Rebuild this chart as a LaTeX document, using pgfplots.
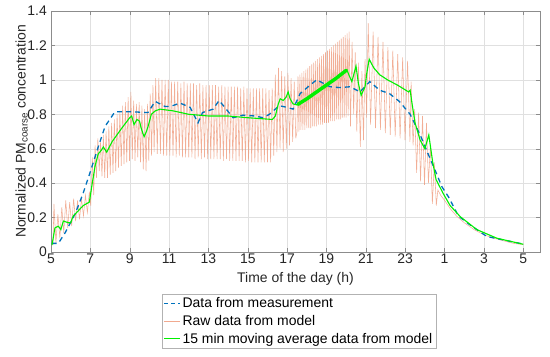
\documentclass[border=0pt]{standalone}
\usepackage{pgfplots}
\pgfplotsset{compat=1.18}
\usepackage{fontspec}
\setmainfont{Liberation Sans}
\definecolor{mblue}{rgb}{0,0.447,0.741}
\definecolor{rawc}{RGB}{236,140,105}
\definecolor{mgreen}{RGB}{0,240,0}
\begin{document}
\begin{tikzpicture}
\begin{axis}[
  scale only axis, width=489bp, height=241bp,
  xmin=5, xmax=29.85, ymin=0, ymax=1.4,
  xtick={5,7,9,11,13,15,17,19,21,23,25,27,29},
  xticklabels={5,7,9,11,13,15,17,19,21,23,1,3,5},
  ytick={0,0.2,0.4,0.6,0.8,1,1.2,1.4},
  yticklabels={0,0.2,0.4,0.6,0.8,1,1.2,1.4},
  tick pos=both, tick align=inside, major tick length=4bp,
  axis line style={black!45}, tick style={black!45},
  grid=major, major grid style={black!12, line width=0.4pt},
  /pgf/number format/assume math mode=true,
  font=\fontsize{14}{16}\selectfont,
  ticklabel style={text=black!85},
  xticklabel style={inner sep=1bp, yshift=-1bp},
  yticklabel style={inner sep=1bp, xshift=-3bp},
  xlabel={Time of the day (h)},
  xlabel style={at={(axis description cs:0.5,-0.083)}, anchor=north, inner sep=0pt, text=black!85},
  ylabel={Normalized PM\textsubscript{coarse} concentration},
  ylabel style={at={(axis description cs:-0.047,0.5)}, anchor=south, inner sep=0pt, text=black!85},
  legend style={at={(axis description cs:0.227,-0.174)}, anchor=north west,
    draw=black!30, fill=white, font=\fontsize{14}{16}\selectfont,
    inner sep=1.5bp, row sep=2.2bp, cells={anchor=west}},
  legend cell align=left,
  legend image code/.code={\draw[#1] (0cm,0cm) -- (0.55cm,0cm);},
]
\addlegendimage{mblue, line width=1.3pt, dash pattern=on 4bp off 3bp}
\addlegendentry{Data from measurement}
\addlegendimage{rawc!75, line width=0.7pt}
\addlegendentry{Raw data from model}
\addlegendimage{mgreen, line width=1pt}
\addlegendentry{15 min moving average data from model}
\coordinate (bl) at (rel axis cs:0,0);
\coordinate (tr) at (rel axis cs:1,1);
% raw model
\addplot[forget plot, rawc, line width=0.55pt, opacity=0.7] coordinates {
(5.10,0.04)(5.15,0.28)(5.25,0.05)(5.35,0.22)(5.45,0.08)(5.55,0.26)(5.65,0.11)(5.75,0.30)(5.85,0.14)(5.95,0.29)
(6.05,0.15)(6.15,0.31)(6.25,0.18)(6.35,0.30)(6.45,0.19)(6.55,0.31)(6.65,0.21)(6.75,0.33)(6.85,0.23)(6.95,0.35)(7.02,0.27)
(7.10,0.55)(7.17,0.33)(7.24,0.62)(7.31,0.43)(7.38,0.66)(7.45,0.47)
(7.52,0.64)(7.59,0.44)(7.66,0.68)(7.73,0.43)(7.80,0.70)(7.87,0.43)(7.94,0.73)(8.01,0.45)(8.08,0.75)(8.15,0.46)
(8.22,0.77)(8.29,0.47)(8.36,0.80)(8.43,0.49)(8.50,0.82)(8.57,0.50)(8.64,0.85)(8.71,0.51)(8.78,0.87)(8.85,0.52)
(8.92,0.90)(8.99,0.53)(9.06,0.93)(9.13,0.54)
(9.20,0.88)(9.27,0.53)(9.34,0.86)(9.41,0.55)(9.48,0.87)(9.55,0.52)(9.62,0.85)(9.69,0.48)(9.76,0.83)(9.83,0.47)
(9.90,0.86)(9.97,0.53)(10.04,0.92)(10.11,0.56)(10.18,0.97)
(10.24,0.58)(10.32,1.01)(10.40,0.57)(10.48,1.01)(10.56,0.57)(10.64,1.00)(10.72,0.56)(10.80,1.00)(10.88,0.56)(10.96,1.00)
(11.04,0.56)(11.12,0.99)(11.20,0.56)(11.28,0.99)(11.36,0.55)(11.44,0.99)(11.52,0.56)(11.60,0.98)(11.68,0.55)(11.76,0.99)
(11.84,0.55)(11.92,0.98)(12.00,0.55)(12.08,0.98)(12.16,0.55)(12.24,0.98)(12.32,0.54)(12.40,0.97)(12.48,0.55)(12.56,0.98)
(12.64,0.54)(12.72,0.97)(12.80,0.55)(12.88,0.97)(12.96,0.54)(13.04,0.97)(13.12,0.54)(13.20,0.97)(13.28,0.54)(13.36,0.97)
(13.44,0.54)(13.52,0.96)(13.60,0.54)(13.68,0.97)(13.76,0.53)(13.84,0.96)(13.92,0.54)(14.00,0.96)(14.08,0.53)(14.16,0.96)
(14.24,0.53)(14.32,0.96)(14.40,0.53)(14.48,0.96)(14.56,0.53)(14.64,0.95)(14.72,0.53)(14.80,0.96)(14.88,0.52)(14.96,0.95)
(15.04,0.53)(15.12,0.95)(15.20,0.52)(15.28,0.95)(15.36,0.52)(15.44,0.95)(15.52,0.52)(15.60,0.95)(15.68,0.52)(15.76,0.95)
(15.84,0.52)(15.92,0.95)(16.00,0.52)(16.08,0.94)(16.16,0.52)(16.24,0.95)
(16.32,0.56)(16.40,1.03)(16.48,0.58)(16.56,1.07)(16.64,0.60)(16.72,1.05)(16.80,0.58)(16.88,1.02)(16.96,0.60)(17.04,1.04)
(17.12,0.62)(17.20,1.01)(17.28,0.64)(17.36,0.99)(17.44,0.66)
(17.50,0.70)(17.55,1.02)(17.60,0.70)(17.65,1.03)(17.70,0.71)(17.75,1.04)(17.80,0.71)(17.85,1.05)(17.90,0.71)(17.95,1.06)
(18.00,0.72)(18.05,1.07)(18.10,0.72)(18.15,1.08)(18.20,0.72)(18.25,1.09)(18.30,0.73)(18.35,1.10)(18.40,0.73)(18.45,1.11)
(18.50,0.73)(18.55,1.12)(18.60,0.74)(18.65,1.13)(18.70,0.74)(18.75,1.14)(18.80,0.74)(18.85,1.15)(18.90,0.75)(18.95,1.16)
(19.00,0.75)(19.05,1.17)(19.10,0.75)(19.15,1.18)(19.20,0.76)(19.25,1.19)(19.30,0.76)(19.35,1.20)(19.40,0.76)(19.45,1.21)
(19.50,0.77)(19.55,1.22)(19.60,0.77)(19.65,1.23)(19.70,0.77)(19.75,1.24)(19.80,0.78)(19.85,1.25)(19.90,0.78)(19.95,1.26)
(20.00,0.78)(20.05,1.27)(20.10,0.79)(20.15,1.28)
(20.22,0.73)(20.30,1.22)(20.38,0.80)(20.46,1.16)(20.54,0.70)(20.62,1.10)(20.72,0.61)(20.80,1.05)(20.88,0.65)(20.96,1.12)(21.04,0.78)
(21.12,1.33)(21.24,0.74)(21.37,1.28)(21.49,0.72)(21.62,1.25)(21.74,0.71)(21.87,1.22)(21.99,0.69)(22.12,1.19)(22.24,0.68)
(22.37,1.17)(22.49,0.67)(22.62,1.15)(22.74,0.66)(22.87,1.13)(22.99,0.65)(23.12,1.11)(23.24,0.64)(23.30,0.99)
(23.40,0.62)(23.48,0.83)(23.58,0.46)(23.68,0.81)(23.78,0.41)(23.88,0.79)(23.98,0.39)(24.08,0.75)(24.18,0.40)
(24.28,0.62)(24.38,0.28)(24.48,0.52)(24.58,0.27)(24.66,0.36)
(24.80,0.33)(25.00,0.30)(25.30,0.25)(25.60,0.21)(26.00,0.17)(26.50,0.13)(27.00,0.10)(27.50,0.08)(28.00,0.065)(28.50,0.05)(29.00,0.043)
};
% measurement
\addplot[forget plot, mblue, line width=1.3pt, dash pattern=on 5bp off 4bp] coordinates {
(5.03,0.05)(5.37,0.05)(5.71,0.11)(6.22,0.22)(6.63,0.34)(6.98,0.46)(7.40,0.61)(7.75,0.73)(8.25,0.815)(9.00,0.815)
(9.93,0.81)(10.29,0.875)(10.80,0.845)(11.05,0.845)(11.56,0.865)(12.07,0.84)(12.47,0.75)(12.70,0.81)(13.24,0.83)(13.54,0.88)
(13.80,0.845)(14.25,0.78)(14.76,0.795)(15.37,0.79)(15.78,0.78)(16.10,0.80)(16.60,0.85)(17.00,0.84)(17.30,0.83)(17.66,0.92)
(18.17,0.97)(18.50,1.00)(19.18,0.96)(19.69,0.955)(20.20,0.96)(20.70,0.93)(21.20,0.99)(21.70,0.94)(22.20,0.92)(22.70,0.875)
(23.25,0.80)(23.76,0.68)(24.20,0.56)(24.50,0.48)(24.86,0.38)(25.20,0.32)(25.70,0.21)(26.20,0.165)(27.15,0.09)(28.00,0.07)
(28.83,0.05)(29.00,0.045)
};
% moving average
\addplot[forget plot, mgreen, line width=1.1pt] coordinates {
(5.05,0.04)(5.20,0.14)(5.37,0.15)(5.50,0.13)(5.63,0.18)(5.88,0.17)(6.00,0.17)(6.13,0.21)(6.39,0.24)(6.64,0.27)
(6.95,0.29)(7.07,0.38)(7.24,0.50)(7.40,0.57)(7.55,0.59)(7.66,0.61)(7.83,0.58)(8.10,0.64)(8.60,0.72)(9.00,0.78)
(9.10,0.79)(9.22,0.74)(9.37,0.77)(9.50,0.76)(9.58,0.72)(9.73,0.67)(9.85,0.70)(9.96,0.74)(10.10,0.80)(10.30,0.82)
(10.54,0.83)(11.20,0.82)(12.00,0.80)(13.00,0.79)(14.00,0.79)(15.00,0.78)(16.25,0.77)(16.40,0.79)(16.55,0.86)(16.65,0.89)
(16.80,0.88)(16.95,0.90)(17.05,0.93)(17.15,0.89)(17.30,0.86)(17.50,0.855)(18.00,0.89)(18.50,0.93)(19.00,0.97)(19.50,1.01)
(20.03,1.06)(20.17,1.02)(20.29,0.99)(20.50,1.08)(20.62,0.98)(20.76,0.91)(20.96,0.96)(21.05,1.04)(21.17,1.12)(21.40,1.07)
(21.70,1.03)(22.10,1.00)(22.60,0.97)(23.17,0.93)(23.25,0.94)(23.35,0.86)(23.50,0.75)(23.76,0.65)(24.00,0.60)(24.20,0.68)
(24.40,0.52)(24.57,0.42)(24.93,0.34)(25.28,0.27)(25.80,0.205)(26.64,0.13)(27.66,0.08)(29.00,0.045)
};
\addplot[forget plot, mgreen, line width=3.5bp, line cap=round] coordinates {
(17.55,0.858)(18.00,0.89)(18.50,0.93)(19.00,0.97)(19.50,1.01)(20.00,1.055)
};
\end{axis}
\pgfresetboundingbox
\path[use as bounding box] ([shift={(-51bp,-105bp)}]bl) rectangle ([shift={(10bp,11bp)}]tr);
\end{tikzpicture}
\end{document}
